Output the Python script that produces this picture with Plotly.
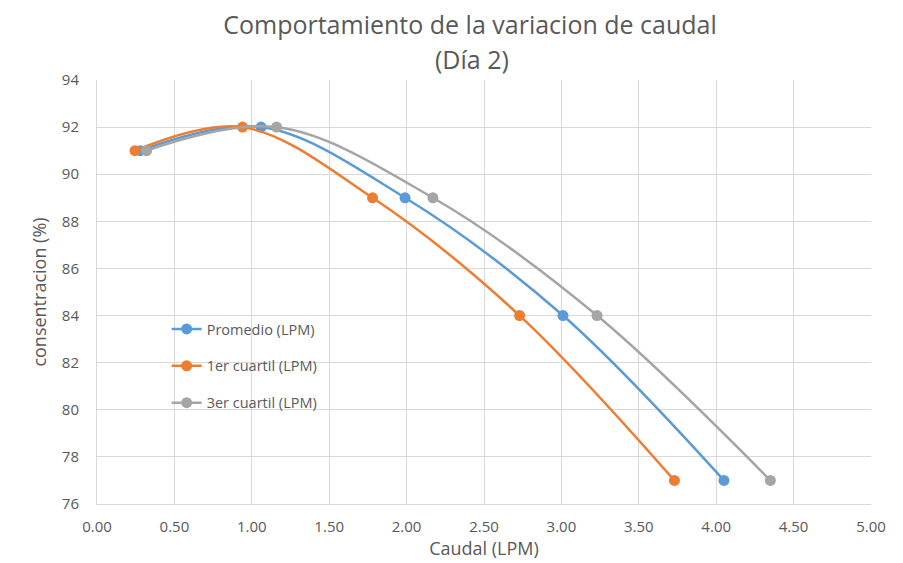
import plotly.graph_objects as go

conc = [91, 92, 89, 84, 77]
promedio = [0.28, 1.06, 1.99, 3.01, 4.05]
cuartil1 = [0.245, 0.94, 1.78, 2.73, 3.73]
cuartil3 = [0.32, 1.16, 2.17, 3.23, 4.35]

series = [
    ("Promedio (LPM)", promedio, "#5B9BD5"),
    ("1er cuartil (LPM)", cuartil1, "#ED7D31"),
    ("3er cuartil (LPM)", cuartil3, "#A5A5A5"),
]

fig = go.Figure()
for i, (name, xs, col) in enumerate(series):
    fig.add_trace(go.Scatter(
        x=xs, y=conc, name=name, mode="lines+markers",
        line=dict(color=col, width=2.5, shape="spline", smoothing=1.0),
        marker=dict(color=col, size=11),
        legendgroup=f"g{i}",
    ))

# page is drawn with an 8px body offset; plot area targets screen px 97..871, 80..504
OFF = 8
L, R, T, B = 97 - OFF, 871 - OFF, 80 - OFF, 504 - OFF
W, H = 903, 563

def ypaper(ypix_screen):
    return (B - (ypix_screen - OFF)) / (B - T)

font_family = "Open Sans, Liberation Sans, sans-serif"
fig.update_layout(
    width=W, height=H,
    margin=dict(l=L, r=W - R, t=T, b=H - B, autoexpand=False),
    paper_bgcolor="white", plot_bgcolor="white",
    font=dict(family=font_family, color="#595959", size=14),
    title=dict(text="Comportamiento de la variacion de caudal",
               xref="paper", x=(470 - 97) / 774, xanchor="center",
               yref="container", y=1 - (25 - OFF) / H, yanchor="middle",
               font=dict(size=25, color="#595959")),
    showlegend=True,
    legend=dict(x=0.09, y=ypaper(313), xanchor="left", yanchor="top",
                bgcolor="rgba(0,0,0,0)", tracegroupgap=15,
                font=dict(size=14.5, color="#595959")),
    xaxis=dict(range=[0, 5], tick0=0, dtick=0.5, tickformat=".2f",
               showgrid=True, gridcolor="#d9d9d9", gridwidth=1,
               zeroline=False, showline=True, linecolor="#d9d9d9",
               automargin=False,
               title=dict(text="Caudal (LPM)", standoff=0, font=dict(size=18)),
               ticks="outside", ticklen=9, tickcolor="rgba(0,0,0,0)",
               tickfont=dict(size=15)),
    yaxis=dict(range=[76, 94], tick0=76, dtick=2,
               showgrid=True, gridcolor="#d9d9d9", gridwidth=1,
               zeroline=False, showline=True, linecolor="#d9d9d9",
               automargin=False,
               title=dict(text="consentracion (%)", standoff=10, font=dict(size=18)),
               ticks="outside", ticklen=14, tickcolor="rgba(0,0,0,0)",
               tickfont=dict(size=15)),
    annotations=[
        dict(text="(Día 2)", xref="paper", yref="paper",
             x=(472 - 97) / 774, y=ypaper(59), showarrow=False,
             xanchor="center", yanchor="middle",
             font=dict(size=25, color="#595959")),
    ],
)

fig.write_html("out.html")
